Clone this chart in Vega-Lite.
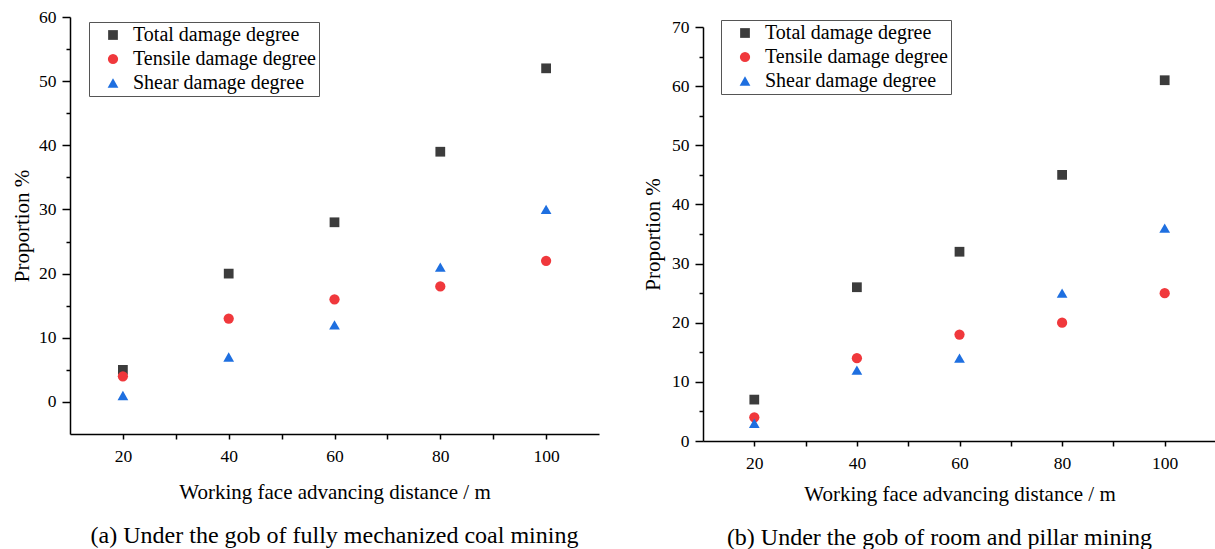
{
  "$schema": "https://vega.github.io/schema/vega-lite/v6.json",
  "background": "white",
  "padding": {"left": 11, "top": 8, "right": 0, "bottom": 0},
  "spacing": 43,
  "config": {
    "font": "Liberation Serif",
    "view": {"stroke": null},
    "axis": {
      "grid": false,
      "domainColor": "black",
      "domainWidth": 1.5,
      "tickColor": "black",
      "tickWidth": 1.5,
      "labelFont": "Liberation Serif",
      "labelFontSize": 17.5,
      "labelColor": "black",
      "titleFont": "Liberation Serif",
      "titleFontSize": 21,
      "titleFontWeight": "normal",
      "titleColor": "black"
    },
    "legend": {
      "labelFont": "Liberation Serif",
      "labelFontSize": 20,
      "labelColor": "black",
      "labelLimit": 400,
      "labelOffset": 10,
      "symbolOffset": 11,
      "strokeColor": "#555555",
      "padding": 3,
      "rowPadding": 4,
      "symbolStrokeWidth": 0,
      "symbolSize": 105,
      "fillColor": "white"
    },
    "title": {
      "font": "Liberation Serif",
      "fontSize": 24,
      "fontWeight": "normal",
      "color": "black"
    }
  },
  "datasets": {
    "a": [
      {"distance": 20, "series": "Total damage degree", "value": 5},
      {"distance": 40, "series": "Total damage degree", "value": 20},
      {"distance": 60, "series": "Total damage degree", "value": 28},
      {"distance": 80, "series": "Total damage degree", "value": 39},
      {"distance": 100, "series": "Total damage degree", "value": 52},
      {"distance": 20, "series": "Tensile damage degree", "value": 4},
      {"distance": 40, "series": "Tensile damage degree", "value": 13},
      {"distance": 60, "series": "Tensile damage degree", "value": 16},
      {"distance": 80, "series": "Tensile damage degree", "value": 18},
      {"distance": 100, "series": "Tensile damage degree", "value": 22},
      {"distance": 20, "series": "Shear damage degree", "value": 1},
      {"distance": 40, "series": "Shear damage degree", "value": 7},
      {"distance": 60, "series": "Shear damage degree", "value": 12},
      {"distance": 80, "series": "Shear damage degree", "value": 21},
      {"distance": 100, "series": "Shear damage degree", "value": 30}
    ],
    "b": [
      {"distance": 20, "series": "Total damage degree", "value": 7},
      {"distance": 40, "series": "Total damage degree", "value": 26},
      {"distance": 60, "series": "Total damage degree", "value": 32},
      {"distance": 80, "series": "Total damage degree", "value": 45},
      {"distance": 100, "series": "Total damage degree", "value": 61},
      {"distance": 20, "series": "Tensile damage degree", "value": 4},
      {"distance": 40, "series": "Tensile damage degree", "value": 14},
      {"distance": 60, "series": "Tensile damage degree", "value": 18},
      {"distance": 80, "series": "Tensile damage degree", "value": 20},
      {"distance": 100, "series": "Tensile damage degree", "value": 25},
      {"distance": 20, "series": "Shear damage degree", "value": 3},
      {"distance": 40, "series": "Shear damage degree", "value": 12},
      {"distance": 60, "series": "Shear damage degree", "value": 14},
      {"distance": 80, "series": "Shear damage degree", "value": 25},
      {"distance": 100, "series": "Shear damage degree", "value": 36}
    ],
    "spacer": [{"k": 1}]
  },
  "resolve": {"scale": {"color": "independent", "shape": "independent", "size": "independent"}, "legend": {"color": "independent", "shape": "independent"}},
  "hconcat": [
    {
      "data": {"name": "a"},
      "width": 529,
      "height": 417,
      "title": {"text": "(a) Under the gob of fully mechanized coal mining", "orient": "bottom", "offset": 21},
      "mark": {"type": "point", "filled": true, "opacity": 1},
      "encoding": {
        "x": {
          "field": "distance", "type": "quantitative",
          "scale": {"domain": [10, 110], "nice": false, "zero": false},
          "axis": {
            "title": "Working face advancing distance / m",
            "values": [20, 30, 40, 50, 60, 70, 80, 90, 100],
            "labelExpr": "datum.value % 20 === 0 ? datum.label : ''",
            "tickSize": 5,
            "labelPadding": 8,
            "titlePadding": 17
          }
        },
        "y": {
          "field": "value", "type": "quantitative",
          "scale": {"domain": [-5, 60], "nice": false, "zero": false},
          "axis": {
            "title": "Proportion %",
            "values": [0, 5, 10, 15, 20, 25, 30, 35, 40, 45, 50, 55, 60],
            "labelExpr": "datum.value % 10 === 0 ? datum.label : ''",
            "tickSize": {"condition": {"test": "datum.value % 10 === 0", "value": 8}, "value": 4},
            "labelPadding": 6,
            "titlePadding": 6
          }
        },
        "color": {
          "field": "series", "type": "nominal",
          "sort": ["Total damage degree", "Tensile damage degree", "Shear damage degree"],
          "scale": {"domain": ["Total damage degree", "Tensile damage degree", "Shear damage degree"], "range": ["#3c3c3c", "#f0383c", "#1e6fe0"]},
          "legend": {"title": null, "orient": "none", "legendX": 19, "legendY": 5}
        },
        "shape": {
          "field": "series", "type": "nominal",
          "sort": ["Total damage degree", "Tensile damage degree", "Shear damage degree"],
          "scale": {"domain": ["Total damage degree", "Tensile damage degree", "Shear damage degree"], "range": ["square", "circle", "triangle-up"]},
          "legend": {"title": null, "orient": "none", "legendX": 19, "legendY": 5}
        },
        "size": {
          "field": "series", "type": "nominal",
          "scale": {"domain": ["Total damage degree", "Tensile damage degree", "Shear damage degree"], "range": [95, 115, 150]},
          "legend": null
        }
      }
    },
    {
      "spacing": 0,
      "vconcat": [
        {
          "data": {"name": "spacer"},
          "width": 513,
          "height": 1,
          "mark": {"type": "rule", "opacity": 0},
          "encoding": {}
        },
        {
          "data": {"name": "b"},
          "width": 513,
          "height": 414,
          "title": {"text": "(b) Under the gob of room and pillar mining", "orient": "bottom", "offset": 21, "dx": -20},
          "mark": {"type": "point", "filled": true, "opacity": 1},
          "encoding": {
            "x": {
              "field": "distance", "type": "quantitative",
              "scale": {"domain": [10, 110], "nice": false, "zero": false},
              "axis": {
                "title": "Working face advancing distance / m",
                "values": [20, 30, 40, 50, 60, 70, 80, 90, 100],
                "labelExpr": "datum.value % 20 === 0 ? datum.label : ''",
                "tickSize": 5,
                "labelPadding": 8,
                "titlePadding": 12
              }
            },
            "y": {
              "field": "value", "type": "quantitative",
              "scale": {"domain": [0, 70], "nice": false},
              "axis": {
                "title": "Proportion %",
                "values": [0, 5, 10, 15, 20, 25, 30, 35, 40, 45, 50, 55, 60, 65, 70],
                "labelExpr": "datum.value % 10 === 0 ? datum.label : ''",
                "tickSize": {"condition": {"test": "datum.value % 10 === 0", "value": 8}, "value": 4},
                "labelPadding": 6,
                "titlePadding": 8
              }
            },
            "color": {
              "field": "series", "type": "nominal",
              "sort": ["Total damage degree", "Tensile damage degree", "Shear damage degree"],
              "scale": {"domain": ["Total damage degree", "Tensile damage degree", "Shear damage degree"], "range": ["#3c3c3c", "#f0383c", "#1e6fe0"]},
              "legend": {"title": null, "orient": "none", "legendX": 18, "legendY": 3}
            },
            "shape": {
              "field": "series", "type": "nominal",
              "sort": ["Total damage degree", "Tensile damage degree", "Shear damage degree"],
              "scale": {"domain": ["Total damage degree", "Tensile damage degree", "Shear damage degree"], "range": ["square", "circle", "triangle-up"]},
              "legend": {"title": null, "orient": "none", "legendX": 18, "legendY": 3}
            },
            "size": {
              "field": "series", "type": "nominal",
              "scale": {"domain": ["Total damage degree", "Tensile damage degree", "Shear damage degree"], "range": [95, 115, 150]},
              "legend": null
            }
          }
        }
      ]
    }
  ]
}
